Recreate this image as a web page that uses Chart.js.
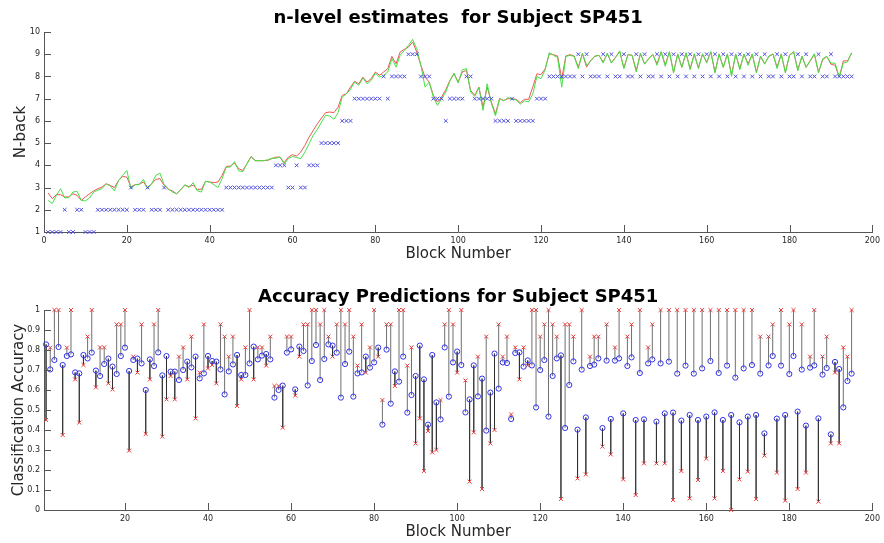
<!DOCTYPE html>
<html>
<head>
<meta charset="utf-8">
<script src="https://cdn.jsdelivr.net/npm/chart.js@4.4.1/dist/chart.umd.min.js"></script>
<style>
  body { margin: 0; background: #fff; }
  #wrap { position: relative; width: 884px; height: 543px; }
  canvas { position: absolute; left: 0; }
</style>
</head>
<body>
<div id="wrap">
  <canvas id="topChart" width="884" height="270" style="top:0"></canvas>
  <canvas id="botChart" width="884" height="273" style="top:270px"></canvas>
</div>
<script>
// Block numbers 1..195
const blocks = Array.from({ length: 195 }, (_, i) => i + 1);

// top plot: actual n-level shown (blue x)
const nLevel = [
  1,1,1,1,2,1,1,2,2,1, 1,1,2,2,2,2,2,2,2,2, 3,2,2,2,3,2,2,2,3,2,
  2,2,2,2,2,2,2,2,2,2, 2,2,2,3,3,3,3,3,3,3, 3,3,3,3,3,4,4,4,3,3,
  4,3,3,4,4,4,5,5,5,5, 5,6,6,6,7,7,7,7,7,7, 7,8,7,8,8,8,8,9,9,9,
  8,8,8,7,7,7,6,7,7,7, 7,8,8,7,7,7,7,7,6,6, 6,6,7,6,6,6,6,6,7,7,
  7,8,8,8,8,8,8,8,9,8, 9,8,8,8,9,8,9,8,8,9, 8,8,9,8,9,8,8,9,8,9,
  8,9,8,9,8,9,8,9,8,9, 8,9,8,9,8,9,8,9,8,9, 8,9,8,9,8,8,9,8,9,8,
  8,9,8,9,8,8,9,8,8,9, 8,8,8,8,8
];

// top plot: model estimate (red line)
const estRed = [
  2.75,2.5,2.68,2.68,2.58,2.58,2.72,2.65,2.42,2.58, 2.72,2.85,2.95,3.02,3.17,3.1,3.0,3.32,3.5,3.47,
  3.02,3.13,3.15,3.25,3.0,3.17,3.37,3.4,3.1,2.92, 2.85,2.72,2.9,3.1,3.05,3.1,2.92,2.92,3.28,3.25,
  3.22,3.25,3.55,3.95,3.97,4.1,3.85,3.77,4.07,4.4, 4.22,4.2,4.22,4.22,4.3,4.37,4.37,4.12,4.37,4.48,
  4.42,4.6,4.9,5.27,5.57,5.87,6.13,6.37,6.4,6.37, 6.62,7.15,7.22,7.52,7.78,7.67,7.97,7.75,7.9,8.2,
  8.05,8.2,8.35,8.9,8.57,9.1,9.22,9.32,9.55,9.1, 8.5,7.97,7.75,7.15,6.85,7.07,7.4,7.82,8.12,7.75,
  8.2,8.27,7.37,7.15,7.52,6.62,7.52,6.85,6.32,7.0, 6.92,7.0,7.0,6.97,6.82,6.97,6.97,7.52,8.12,8.08,
  8.35,9.02,8.98,8.92,7.9,8.92,8.98,8.92,8.42,9.02, 8.42,8.72,8.92,8.95,8.65,9.02,8.62,8.87,9.13,8.38,
  8.98,8.95,8.27,9.02,8.57,8.8,8.98,8.57,9.1,8.53, 9.1,8.2,9.0,8.42,9.05,8.35,9.0,8.4,9.0,8.65,
  9.1,8.2,9.0,8.42,9.0,8.08,9.0,8.35,9.0,8.57, 9.0,8.2,8.9,8.57,8.9,9.0,8.42,9.0,8.2,8.95,
  9.1,8.3,8.9,8.42,8.7,9.0,8.2,8.75,8.9,8.55, 8.5,7.97,8.7,8.7,9.05
];

// top plot: second estimate (green line)
const estGreen = [
  2.42,2.28,2.65,2.95,2.53,2.55,2.8,2.83,2.42,2.4, 2.53,2.8,2.88,2.95,3.17,3.07,2.85,3.32,3.55,3.77,
  2.95,3.13,3.13,3.37,2.95,3.17,3.55,3.65,3.13,2.95, 2.8,2.72,2.9,3.13,3.0,3.22,2.85,2.8,3.28,3.25,
  3.13,3.0,3.4,3.92,3.92,4.17,3.75,3.72,4.07,4.38, 4.2,4.22,4.2,4.25,4.32,4.32,4.37,4.06,4.3,4.4,
  4.35,4.3,4.6,4.97,5.35,5.62,5.95,6.25,6.22,6.07, 6.37,7.07,7.22,7.42,7.75,7.6,7.93,7.67,7.82,8.15,
  7.97,8.05,8.2,8.8,8.42,8.95,9.17,9.4,9.67,9.25, 8.5,7.52,7.75,7.07,6.7,7.0,7.3,7.8,8.15,7.7,
  8.3,8.35,7.3,7.1,7.5,6.47,7.67,6.8,6.22,7.0, 6.9,7.05,6.97,6.95,6.75,6.9,6.85,7.2,8.0,7.9,
  8.3,9.07,8.95,8.85,7.52,8.9,8.95,8.9,8.35,9.05, 8.5,8.7,8.9,8.95,8.6,9.05,8.6,8.85,9.15,8.35,
  9.0,8.95,8.2,9.05,8.55,8.8,9.0,8.5,9.12,8.45, 9.12,8.15,9.02,8.4,9.07,8.3,9.02,8.35,9.02,8.6,
  9.12,8.15,9.02,8.4,9.02,8.0,9.02,8.3,9.02,8.5, 9.02,8.15,8.92,8.55,8.92,9.02,8.35,9.02,8.15,8.97,
  9.12,8.25,8.92,8.4,8.72,9.02,8.15,8.8,8.9,8.6, 8.6,7.97,8.6,8.65,9.07
];

// bottom plot: predicted accuracy (blue circles)
const predAcc = [
  .828,.703,.75,.815,.725,.77,.778,.688,.683,.775, .758,.787,.697,.67,.73,.757,.717,.68,.77,.812,
  .695,.75,.757,.733,.6,.753,.72,.788,.673,.77, .692,.692,.65,.7,.742,.713,.767,.658,.683,.77,
  .745,.742,.703,.578,.693,.728,.775,.675,.675,.733, .817,.753,.772,.78,.753,.562,.6,.622,.787,.803,
  .603,.817,.795,.623,.745,.825,.65,.755,.828,.822, .787,.562,.73,.792,.567,.683,.688,.767,.712,.738,
  .812,.427,.802,.532,.693,.642,.767,.487,.575,.67, .822,.653,.427,.775,.538,.453,.813,.567,.738,.792,
  .725,.488,.553,.723,.568,.657,.397,.587,.782,.607, .738,.735,.455,.785,.788,.717,.748,.723,.513,.7,
  .75,.467,.67,.758,.773,.41,.625,.743,.402,.702, .463,.72,.727,.758,.41,.747,.455,.747,.758,.483,
  .72,.763,.45,.685,.453,.733,.753,.442,.733,.483, .742,.487,.682,.447,.722,.475,.682,.45,.708,.467,
  .745,.488,.685,.45,.722,.475,.662,.438,.708,.467, .725,.475,.682,.383,.723,.77,.457,.722,.475,.68,
  .77,.492,.702,.422,.712,.723,.458,.677,.71,.378, .74,.705,.513,.645,.682
];

// bottom plot: observed accuracy (red x)
const actAcc = [
  .45,.812,1,1,.375,.812,1,.653,.437,.725, .867,1,.613,.813,.813,.633,.603,.928,.928,1,
  .297,.767,.687,.928,.38,.653,.928,1,.367,.553, .67,.553,.767,.813,.653,.867,.458,.687,.928,.708,
  .725,.633,.928,.867,.767,.867,.52,.653,.813,1, .653,.813,.813,.722,.867,.62,.62,.412,.867,.867,
  .572,.767,.928,.928,1,1,.928,1,.867,.767, .928,1,.928,1,.867,.722,.928,.687,.813,1,
  .767,.55,.928,.928,.62,1,1,.722,.813,.333, .458,.195,.395,.288,.3,.55,.928,1,.928,.687,
  1,.648,.142,.388,.767,.105,.867,.333,.4,.928, .767,.867,.478,.813,.653,.813,.723,1,1,.867,
  .928,1,.928,.867,.055,.928,.928,.867,.158,1, .178,.767,.867,.867,.317,.928,.278,.813,1,.153,
  .867,.928,.075,1,.233,.813,.928,.233,1,.233, 1,.05,1,.195,1,.058,1,.15,1,.257,
  1,.058,1,.195,1,0,1,.153,1,.192, 1,.055,.867,.272,.867,.928,.187,1,.047,.928,
  1,.105,.928,.187,.767,1,.042,.767,.867,.333, .687,.333,.813,.767,1
];

const topXTicks = [0, 20, 40, 60, 80, 100, 120, 140, 160, 180, 200];
const topYTicks = [1, 2, 3, 4, 5, 6, 7, 8, 9, 10];
const botXTicks = [20, 40, 60, 80, 100, 120, 140, 160, 180, 200];
const botYTicks = [0, 0.1, 0.2, 0.3, 0.4, 0.5, 0.6, 0.7, 0.8, 0.9, 1];

const FONT = "'DejaVu Sans', sans-serif";
const AX = '#555';
const TXT = '#262626';

// MATLAB style inward tick marks
const inTicks = {
  id: 'inTicks',
  afterDatasetsDraw(chart) {
    const ctx = chart.ctx, a = chart.chartArea;
    const xs = chart.scales.x, ys = chart.scales.y;
    ctx.save();
    ctx.strokeStyle = AX;
    ctx.lineWidth = 1;
    ctx.beginPath();
    xs.ticks.forEach(t => {
      const px = Math.round(xs.getPixelForValue(t.value)) + 0.5;
      ctx.moveTo(px, a.bottom); ctx.lineTo(px, a.bottom - 7);
    });
    ys.ticks.forEach(t => {
      const py = Math.round(ys.getPixelForValue(t.value)) + 0.5;
      ctx.moveTo(a.left, py); ctx.lineTo(a.left + 7, py);
    });
    ctx.stroke();
    ctx.restore();
  }
};

function axisX(min, max, ticks, h, titlePad) {
  return {
    type: 'linear', min: min, max: max,
    afterBuildTicks: s => { s.ticks = ticks.map(v => ({ value: v })); },
    afterFit: s => { s.height = h; },
    grid: { display: false, drawTicks: false },
    border: { display: true, color: AX, width: 1 },
    ticks: { font: { family: FONT, size: 8 }, color: TXT, padding: 4, maxRotation: 0, autoSkip: false,
             callback: v => String(v) },
    title: { display: true, text: 'Block Number', font: { family: FONT, size: 15 }, color: TXT,
             padding: { top: 0, bottom: titlePad } }
  };
}

function axisY(min, max, ticks, label, titlePad) {
  return {
    min: min, max: max,
    afterBuildTicks: s => { s.ticks = ticks.map(v => ({ value: v })); },
    afterFit: s => { s.width = 44; },
    grid: { display: false, drawTicks: false },
    border: { display: true, color: AX, width: 1 },
    ticks: { font: { family: FONT, size: 8 }, color: TXT, padding: 4,
             callback: v => String(+v.toFixed(1)) },
    title: { display: true, text: label, font: { family: FONT, size: 15 }, color: TXT,
             padding: { top: titlePad, bottom: 0 } }
  };
}

new Chart(document.getElementById('topChart'), {
  type: 'line',
  data: {
    datasets: [
      { label: 'true', data: blocks.map((b, i) => ({ x: b, y: nLevel[i] })), showLine: false,
        pointStyle: 'crossRot', pointRadius: 2.6, borderColor: 'rgb(80,80,225)', borderWidth: 1,
        clip: false, order: 0 },
      { label: 'estimate2', data: blocks.map((b, i) => ({ x: b, y: estGreen[i] })),
        borderColor: 'rgb(70,225,70)', borderWidth: 1, pointRadius: 0, order: 1 },
      { label: 'estimate', data: blocks.map((b, i) => ({ x: b, y: estRed[i] })),
        borderColor: 'rgb(235,85,85)', borderWidth: 1, pointRadius: 0, order: 2 }
    ]
  },
  options: {
    responsive: false, animation: false, devicePixelRatio: 1,
    layout: { padding: { left: 0, right: 7, top: 0, bottom: 0 } },
    plugins: {
      legend: { display: false }, tooltip: { enabled: false },
      title: { display: true, text: 'n-level estimates  for Subject SP451', fullSize: false,
               font: { family: FONT, size: 18, weight: 'bold' }, color: '#000',
               padding: { top: 8, bottom: 2.4 } }
    },
    scales: {
      x: axisX(0, 200, topXTicks, 38, 7),
      y: axisY(1, 10, topYTicks, 'N-back', 12)
    }
  },
  plugins: [inTicks]
});

// stems joining prediction and observation, broken by gaps
const stems = [];
blocks.forEach((b, i) => {
  stems.push({ x: b, y: predAcc[i] }, { x: b, y: actAcc[i] }, { x: b, y: null });
});

new Chart(document.getElementById('botChart'), {
  type: 'line',
  data: {
    datasets: [
      { label: 'predicted', data: blocks.map((b, i) => ({ x: b, y: predAcc[i] })), showLine: false,
        pointStyle: 'circle', pointRadius: 2.6, borderColor: 'rgb(50,50,230)',
        backgroundColor: 'rgba(0,0,0,0)', borderWidth: 1, clip: false, order: 0 },
      { label: 'observed', data: blocks.map((b, i) => ({ x: b, y: actAcc[i] })), showLine: false,
        pointStyle: 'crossRot', pointRadius: 2.8, borderColor: 'rgb(230,60,60)', borderWidth: 1,
        clip: false, order: 1 },
      { label: 'stems', data: stems, borderColor: 'rgba(40,40,40,0.75)', borderWidth: 0.9, pointRadius: 0,
        spanGaps: false, clip: false, order: 2 }
    ]
  },
  options: {
    responsive: false, animation: false, devicePixelRatio: 1,
    layout: { padding: { left: 0, right: 7, top: 0, bottom: 0 } },
    plugins: {
      legend: { display: false }, tooltip: { enabled: false },
      title: { display: true, text: 'Accuracy Predictions for Subject SP451', fullSize: false,
               font: { family: FONT, size: 18, weight: 'bold' }, color: '#000',
               padding: { top: 17, bottom: 1.4 } }
    },
    scales: {
      x: axisX(0.5, 200, botXTicks, 33, 2),
      y: axisY(0, 1, botYTicks, 'Classification Accuracy', 10)
    }
  },
  plugins: [inTicks]
});
</script>
</body>
</html>
